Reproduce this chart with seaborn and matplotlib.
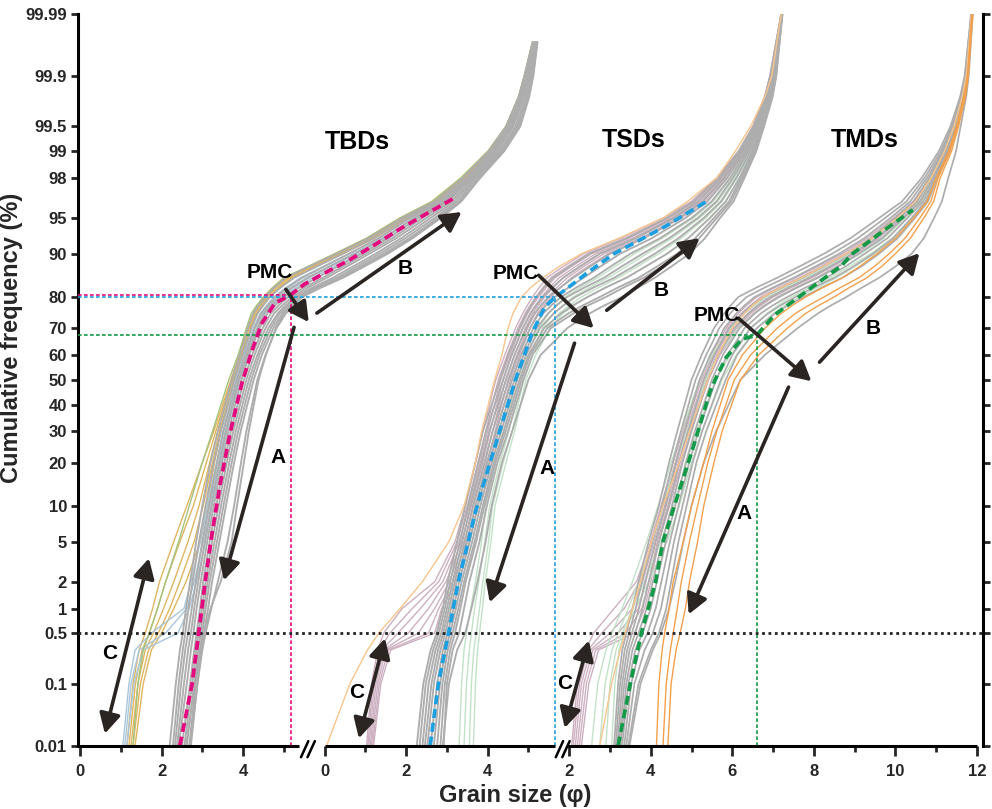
import matplotlib
matplotlib.use("Agg")
import matplotlib.pyplot as plt
from matplotlib.transforms import blended_transform_factory
import numpy as np
import pandas as pd
import seaborn as sns
from statistics import NormalDist

# ---------------------------------------------------------------------------
# Cumulative-frequency levels (%) at which every curve below is tabulated
# ---------------------------------------------------------------------------
P_TBD = [0.01, 0.1, 0.3, 0.5, 1, 2, 5, 10, 20, 30, 50, 60, 65, 70, 75, 77.5, 80, 82.5, 85,
         87.5, 90, 92.5, 95, 96.5, 98, 99, 99.5, 99.8, 99.9, 99.97]
P_TSD = [0.01, 0.1, 0.3, 0.5, 1, 2, 5, 10, 20, 30, 50, 60, 65, 70, 75, 77.5, 80, 82.5, 85,
         87.5, 90, 92.5, 95, 96.5, 98, 99, 99.5, 99.8, 99.9, 99.99]
P_TMD = P_TSD

# The three panels share one broken grain-size axis; phi values are shifted by these offsets
PANEL_OFFSET = [0.0, 6.0, 10.0]

# ---------------------------- TBDs (phi) ----------------------------------
TBD_GREY = [
    [2.20, 2.35, 2.45, 2.52, 2.60, 2.70, 2.85, 3.00, 3.20, 3.38, 3.72, 3.92, 4.02, 4.12, 4.25, 4.38, 4.55, 4.76, 5.05, 5.62, 6.30, 7.08, 7.90, 8.70, 9.40, 10.03, 10.45, 10.76, 10.90, 11.10],
    [2.28, 2.42, 2.52, 2.58, 2.66, 2.76, 2.92, 3.08, 3.28, 3.45, 3.78, 3.98, 4.09, 4.20, 4.35, 4.48, 4.65, 4.91, 5.25, 5.80, 6.45, 7.20, 8.00, 8.78, 9.48, 10.09, 10.50, 10.79, 10.93, 11.12],
    [2.33, 2.48, 2.58, 2.65, 2.74, 2.84, 3.00, 3.16, 3.36, 3.52, 3.85, 4.05, 4.16, 4.28, 4.45, 4.61, 4.80, 5.08, 5.45, 5.98, 6.60, 7.33, 8.10, 8.86, 9.52, 10.12, 10.52, 10.81, 10.95, 11.14],
    [2.38, 2.55, 2.65, 2.72, 2.80, 2.90, 3.06, 3.22, 3.42, 3.58, 3.90, 4.10, 4.22, 4.35, 4.52, 4.69, 4.90, 5.20, 5.60, 6.13, 6.75, 7.46, 8.20, 8.93, 9.56, 10.15, 10.55, 10.84, 10.97, 11.15],
    [2.42, 2.62, 2.72, 2.78, 2.86, 2.96, 3.12, 3.28, 3.48, 3.64, 3.96, 4.15, 4.27, 4.40, 4.60, 4.78, 5.00, 5.36, 5.80, 6.32, 6.90, 7.56, 8.30, 8.98, 9.60, 10.19, 10.58, 10.86, 10.99, 11.16],
    [2.50, 2.70, 2.80, 2.86, 2.94, 3.02, 3.18, 3.34, 3.54, 3.70, 4.02, 4.22, 4.35, 4.48, 4.68, 4.87, 5.10, 5.48, 5.95, 6.44, 7.00, 7.66, 8.40, 9.03, 9.62, 10.21, 10.60, 10.88, 11.01, 11.17],
    [2.56, 2.75, 2.85, 2.91, 2.99, 3.08, 3.24, 3.40, 3.60, 3.76, 4.08, 4.28, 4.41, 4.55, 4.76, 4.96, 5.20, 5.58, 6.05, 6.54, 7.10, 7.76, 8.50, 9.10, 9.66, 10.24, 10.63, 10.90, 11.03, 11.18],
    [2.62, 2.80, 2.90, 2.96, 3.04, 3.13, 3.30, 3.46, 3.66, 3.82, 4.14, 4.35, 4.48, 4.62, 4.85, 5.04, 5.28, 5.69, 6.20, 6.69, 7.25, 7.88, 8.60, 9.17, 9.70, 10.29, 10.68, 10.94, 11.06, 11.20],
    [2.68, 2.84, 2.94, 3.00, 3.08, 3.18, 3.36, 3.52, 3.72, 3.88, 4.20, 4.40, 4.54, 4.68, 4.90, 5.09, 5.32, 5.76, 6.30, 6.79, 7.35, 7.98, 8.70, 9.24, 9.74, 10.33, 10.72, 10.97, 11.09, 11.21],
    [2.72, 2.88, 2.98, 3.04, 3.14, 3.24, 3.42, 3.58, 3.78, 3.94, 4.26, 4.46, 4.60, 4.74, 4.96, 5.15, 5.38, 5.83, 6.38, 6.88, 7.45, 8.08, 8.78, 9.30, 9.78, 10.37, 10.76, 11.00, 11.11, 11.22],
    [2.70, 2.88, 3.00, 3.08, 3.22, 3.38, 3.62, 3.78, 3.95, 4.08, 4.35, 4.55, 4.68, 4.82, 5.05, 5.23, 5.45, 5.90, 6.45, 6.97, 7.55, 8.16, 8.85, 9.35, 9.82, 10.41, 10.80, 11.02, 11.12, 11.22],
    [2.60, 2.82, 2.95, 3.05, 3.20, 3.45, 3.72, 3.85, 4.02, 4.14, 4.38, 4.56, 4.68, 4.80, 5.00, 5.18, 5.40, 5.85, 6.40, 6.92, 7.50, 8.11, 8.80, 9.32, 9.80, 10.39, 10.78, 11.00, 11.10, 11.20],
]
TBD_YELLOW = [
    [1.15, 1.30, 1.45, 1.60, 1.78, 1.95, 2.30, 2.62, 3.00, 3.28, 3.70, 3.90, 4.00, 4.10, 4.25, 4.36, 4.50, 4.72, 5.00, 5.59, 6.25, 7.03, 7.85, 8.63, 9.35, 10.01, 10.45, 10.76, 10.90, 11.10],
    [1.20, 1.36, 1.52, 1.70, 1.90, 2.10, 2.45, 2.78, 3.10, 3.33, 3.72, 3.92, 4.02, 4.12, 4.27, 4.39, 4.53, 4.75, 5.03, 5.63, 6.30, 7.08, 7.90, 8.68, 9.40, 10.03, 10.45, 10.76, 10.90, 11.10],
    [1.25, 1.42, 1.60, 1.80, 2.05, 2.30, 2.65, 2.92, 3.18, 3.38, 3.75, 3.95, 4.05, 4.15, 4.30, 4.43, 4.58, 4.81, 5.10, 5.69, 6.35, 7.13, 7.95, 8.71, 9.42, 10.06, 10.48, 10.78, 10.92, 11.12],
    [1.30, 1.48, 1.68, 1.92, 2.20, 2.45, 2.80, 3.02, 3.25, 3.42, 3.78, 3.98, 4.08, 4.18, 4.33, 4.46, 4.62, 4.86, 5.15, 5.74, 6.40, 7.18, 8.00, 8.75, 9.45, 10.08, 10.50, 10.79, 10.93, 11.12],
    [1.35, 1.55, 1.75, 2.00, 2.30, 2.60, 2.95, 3.12, 3.30, 3.46, 3.80, 4.00, 4.10, 4.20, 4.36, 4.50, 4.66, 4.90, 5.20, 5.79, 6.45, 7.23, 8.05, 8.79, 9.48, 10.10, 10.52, 10.81, 10.94, 11.13],
]
TBD_STEEL = [
    [1.05, 1.20, 1.35, 1.75, 2.55, 2.72, 2.95, 3.12, 3.35, 3.50, 3.82, 4.02, 4.13, 4.25, 4.42, 4.57, 4.75, 5.04, 5.40, 5.96, 6.60, 7.31, 8.10, 8.85, 9.50, 10.13, 10.55, 10.82, 10.95, 11.14],
    [1.10, 1.25, 1.45, 2.10, 2.62, 2.80, 3.02, 3.18, 3.40, 3.56, 3.88, 4.08, 4.19, 4.30, 4.48, 4.65, 4.85, 5.16, 5.55, 6.09, 6.70, 7.41, 8.20, 8.92, 9.55, 10.16, 10.57, 10.84, 10.97, 11.15],
    [1.15, 1.32, 1.55, 2.40, 2.68, 2.86, 3.08, 3.24, 3.45, 3.60, 3.92, 4.12, 4.23, 4.35, 4.55, 4.73, 4.95, 5.28, 5.70, 6.24, 6.85, 7.55, 8.30, 8.98, 9.60, 10.20, 10.60, 10.87, 11.00, 11.16],
]
TBD_OLIVE = [
    [1.30, 1.42, 1.55, 1.70, 1.90, 2.10, 2.42, 2.68, 3.00, 3.25, 3.65, 3.88, 3.98, 4.08, 4.20, 4.33, 4.50, 4.72, 5.00, 5.59, 6.25, 7.03, 7.85, 8.63, 9.35, 10.01, 10.45, 10.76, 10.90, 11.10],
]
TBD_MEAN_X = [2.45, 2.75, 2.91, 3.07, 3.24, 3.44, 3.68, 3.97, 4.22, 4.46, 4.78, 5.17, 5.50, 5.98, 6.60, 7.23, 7.80, 8.53, 9.20]
TBD_MEAN_P = [0.01, 0.1, 0.5, 2, 6, 14.6, 29.3, 48.6, 61.8, 71.7, 78.2, 80.6, 83.4, 86, 88.8, 91.5, 93.6, 95.5, 96.8]

# ---------------------------- TSDs (phi) ----------------------------------
TSD_GREY = [
    [2.26, 2.42, 2.60, 2.75, 2.90, 3.02, 3.25, 3.45, 3.70, 3.88, 4.30, 4.50, 4.64, 4.78, 4.95, 5.06, 5.20, 5.38, 5.60, 6.01, 6.50, 7.42, 8.40, 9.05, 9.65, 10.17, 10.52, 10.80, 10.93, 11.20],
    [2.33, 2.48, 2.66, 2.80, 2.95, 3.08, 3.32, 3.52, 3.78, 3.96, 4.38, 4.58, 4.72, 4.86, 5.05, 5.19, 5.35, 5.58, 5.85, 6.26, 6.75, 7.63, 8.55, 9.16, 9.72, 10.22, 10.55, 10.82, 10.95, 11.20],
    [2.40, 2.55, 2.72, 2.86, 3.00, 3.14, 3.38, 3.58, 3.85, 4.04, 4.45, 4.66, 4.80, 4.95, 5.15, 5.31, 5.50, 5.77, 6.10, 6.51, 7.00, 7.83, 8.70, 9.27, 9.80, 10.27, 10.58, 10.85, 10.97, 11.21],
    [2.46, 2.62, 2.78, 2.91, 3.05, 3.19, 3.44, 3.64, 3.92, 4.12, 4.52, 4.74, 4.89, 5.04, 5.25, 5.43, 5.65, 5.97, 6.35, 6.76, 7.25, 8.03, 8.85, 9.39, 9.88, 10.32, 10.61, 10.87, 10.99, 11.21],
    [2.52, 2.68, 2.84, 2.96, 3.10, 3.24, 3.50, 3.70, 3.98, 4.20, 4.60, 4.82, 4.97, 5.12, 5.36, 5.56, 5.80, 6.16, 6.60, 7.01, 7.50, 8.23, 9.00, 9.49, 9.95, 10.36, 10.64, 10.89, 11.00, 11.21],
    [2.60, 2.76, 2.90, 3.02, 3.16, 3.30, 3.56, 3.76, 4.04, 4.27, 4.66, 4.88, 5.04, 5.20, 5.48, 5.69, 5.95, 6.36, 6.85, 7.28, 7.80, 8.45, 9.15, 9.61, 10.02, 10.40, 10.66, 10.91, 11.02, 11.22],
    [2.68, 2.83, 2.96, 3.08, 3.22, 3.36, 3.62, 3.82, 4.10, 4.33, 4.72, 4.94, 5.11, 5.28, 5.62, 5.86, 6.15, 6.58, 7.10, 7.57, 8.10, 8.68, 9.30, 9.72, 10.10, 10.45, 10.69, 10.92, 11.03, 11.22],
    [2.76, 2.89, 3.02, 3.14, 3.28, 3.42, 3.68, 3.88, 4.15, 4.39, 4.78, 5.00, 5.19, 5.38, 5.80, 6.09, 6.45, 6.88, 7.40, 7.87, 8.40, 8.92, 9.45, 9.84, 10.18, 10.50, 10.72, 10.94, 11.05, 11.22],
    [2.84, 2.95, 3.08, 3.20, 3.33, 3.46, 3.72, 3.92, 4.19, 4.44, 4.83, 5.04, 5.25, 5.46, 5.98, 6.33, 6.75, 7.18, 7.70, 8.15, 8.65, 9.09, 9.55, 9.92, 10.22, 10.53, 10.74, 10.96, 11.06, 11.22],
    [2.92, 3.00, 3.14, 3.30, 3.42, 3.55, 3.80, 3.98, 4.24, 4.50, 4.88, 5.10, 5.32, 5.55, 6.10, 6.46, 6.90, 7.32, 7.82, 8.27, 8.78, 9.19, 9.62, 9.97, 10.26, 10.56, 10.76, 10.98, 11.07, 11.23],
    [2.90, 3.05, 3.25, 3.45, 3.60, 3.75, 3.95, 4.10, 4.35, 4.60, 5.00, 5.30, 5.62, 5.95, 6.50, 6.86, 7.30, 7.68, 8.10, 8.50, 8.95, 9.33, 9.70, 10.03, 10.30, 10.59, 10.78, 10.99, 11.08, 11.23],
]
TSD_MAUVE = [
    [1.03, 1.15, 1.30, 1.45, 1.90, 2.70, 3.20, 3.45, 3.70, 3.88, 4.20, 4.42, 4.55, 4.68, 4.86, 4.97, 5.10, 5.26, 5.45, 5.85, 6.35, 7.27, 8.30, 8.99, 9.62, 10.15, 10.50, 10.79, 10.92, 11.20],
    [1.06, 1.18, 1.35, 1.60, 2.15, 2.80, 3.25, 3.50, 3.76, 3.95, 4.26, 4.48, 4.61, 4.74, 4.92, 5.04, 5.18, 5.35, 5.55, 5.95, 6.45, 7.37, 8.38, 9.05, 9.66, 10.18, 10.52, 10.80, 10.93, 11.20],
    [1.09, 1.22, 1.40, 1.80, 2.35, 2.90, 3.30, 3.55, 3.82, 4.00, 4.32, 4.54, 4.67, 4.80, 4.98, 5.10, 5.25, 5.43, 5.65, 6.05, 6.55, 7.46, 8.45, 9.10, 9.70, 10.20, 10.54, 10.81, 10.94, 11.20],
    [1.12, 1.26, 1.45, 2.05, 2.55, 2.98, 3.36, 3.60, 3.88, 4.06, 4.38, 4.60, 4.73, 4.86, 5.04, 5.17, 5.32, 5.51, 5.75, 6.15, 6.65, 7.55, 8.52, 9.16, 9.74, 10.23, 10.56, 10.83, 10.95, 11.21],
    [1.15, 1.30, 1.50, 2.30, 2.70, 3.06, 3.42, 3.65, 3.94, 4.12, 4.44, 4.66, 4.79, 4.92, 5.10, 5.24, 5.40, 5.60, 5.85, 6.25, 6.75, 7.65, 8.60, 9.22, 9.78, 10.26, 10.58, 10.84, 10.96, 11.21],
    [1.18, 1.34, 1.56, 2.55, 2.80, 3.14, 3.48, 3.70, 4.00, 4.18, 4.50, 4.72, 4.85, 4.98, 5.16, 5.30, 5.48, 5.69, 5.95, 6.35, 6.85, 7.75, 8.68, 9.27, 9.82, 10.29, 10.60, 10.85, 10.97, 11.21],
    [1.20, 1.38, 1.62, 2.70, 2.87, 3.22, 3.55, 3.75, 4.05, 4.22, 4.56, 4.78, 4.91, 5.04, 5.22, 5.37, 5.56, 5.78, 6.05, 6.45, 6.95, 7.84, 8.75, 9.33, 9.86, 10.32, 10.62, 10.86, 10.98, 11.21],
]
TSD_ORANGE = [
    [0.05, 0.62, 1.05, 1.33, 1.85, 2.40, 3.05, 3.42, 3.70, 3.85, 4.17, 4.35, 4.42, 4.50, 4.62, 4.72, 4.83, 5.05, 5.35, 5.75, 6.30, 7.22, 8.30, 8.90, 9.62, 10.08, 10.45, 10.80, 10.97, 11.20],
]
TSD_MINT = [
    [3.30, 3.36, 3.42, 3.48, 3.58, 3.70, 3.85, 3.95, 4.20, 4.40, 4.72, 4.95, 5.10, 5.25, 5.50, 5.68, 5.90, 6.26, 6.70, 7.12, 7.60, 8.29, 9.05, 9.53, 9.98, 10.38, 10.65, 10.90, 11.01, 11.21],
    [3.42, 3.48, 3.55, 3.60, 3.68, 3.78, 3.93, 4.05, 4.30, 4.52, 4.80, 5.02, 5.18, 5.35, 5.62, 5.84, 6.10, 6.48, 6.95, 7.40, 7.90, 8.53, 9.20, 9.64, 10.05, 10.42, 10.67, 10.91, 11.02, 11.22],
    [3.55, 3.60, 3.66, 3.72, 3.80, 3.88, 4.02, 4.12, 4.38, 4.60, 4.88, 5.10, 5.27, 5.45, 5.75, 6.00, 6.30, 6.71, 7.20, 7.67, 8.20, 8.75, 9.35, 9.75, 10.12, 10.47, 10.70, 10.93, 11.04, 11.22],
    [3.65, 3.70, 3.75, 3.80, 3.87, 3.94, 4.08, 4.18, 4.45, 4.66, 4.94, 5.18, 5.35, 5.52, 5.85, 6.12, 6.45, 6.88, 7.40, 7.87, 8.40, 8.92, 9.45, 9.83, 10.18, 10.50, 10.72, 10.94, 11.05, 11.22],
]
TSD_MEAN_X = [2.59, 2.79, 3.04, 3.28, 3.69, 3.85, 4.18, 4.68, 4.90, 5.08, 5.40, 5.66, 5.98, 6.42, 7.10, 7.66, 8.34, 8.90, 9.42]
TSD_MEAN_P = [0.01, 0.1, 0.5, 2, 8.7, 13, 25, 50, 60, 68, 77, 80, 82.6, 86, 90, 92, 94, 95.5, 96.6]

# ---------------------------- TMDs (phi) ----------------------------------
TMD_GREY = [
    [3.10, 3.20, 3.30, 3.40, 3.55, 3.70, 3.95, 4.20, 4.45, 4.65, 5.00, 5.25, 5.40, 5.55, 5.80, 5.96, 6.15, 6.58, 7.10, 7.64, 8.25, 8.90, 9.60, 10.16, 10.65, 11.07, 11.35, 11.59, 11.70, 11.86],
    [3.14, 3.25, 3.36, 3.47, 3.63, 3.78, 4.04, 4.28, 4.54, 4.74, 5.10, 5.36, 5.52, 5.68, 5.95, 6.13, 6.35, 6.78, 7.30, 7.84, 8.45, 9.08, 9.75, 10.27, 10.72, 11.12, 11.38, 11.60, 11.71, 11.86],
    [3.18, 3.30, 3.42, 3.54, 3.71, 3.86, 4.12, 4.36, 4.62, 4.83, 5.20, 5.46, 5.63, 5.80, 6.10, 6.30, 6.55, 6.98, 7.50, 8.03, 8.62, 9.24, 9.88, 10.36, 10.78, 11.16, 11.40, 11.62, 11.72, 11.87],
    [3.22, 3.35, 3.48, 3.62, 3.80, 3.95, 4.20, 4.44, 4.70, 4.92, 5.30, 5.56, 5.74, 5.92, 6.25, 6.47, 6.75, 7.18, 7.70, 8.22, 8.80, 9.41, 10.00, 10.45, 10.83, 11.19, 11.42, 11.63, 11.73, 11.87],
    [3.26, 3.40, 3.55, 3.70, 3.90, 4.05, 4.28, 4.52, 4.78, 5.00, 5.40, 5.66, 5.85, 6.05, 6.40, 6.64, 6.95, 7.38, 7.90, 8.41, 8.95, 9.55, 10.10, 10.53, 10.88, 11.22, 11.44, 11.64, 11.74, 11.87],
    [3.30, 3.45, 3.62, 3.80, 4.00, 4.15, 4.37, 4.60, 4.86, 5.08, 5.50, 5.77, 5.97, 6.18, 6.55, 6.81, 7.15, 7.58, 8.10, 8.60, 9.10, 9.68, 10.20, 10.61, 10.93, 11.25, 11.46, 11.66, 11.75, 11.88],
    [3.35, 3.52, 3.72, 3.92, 4.12, 4.26, 4.47, 4.68, 4.94, 5.17, 5.60, 5.88, 6.09, 6.30, 6.70, 6.99, 7.35, 7.78, 8.30, 8.77, 9.25, 9.81, 10.30, 10.68, 10.97, 11.28, 11.48, 11.67, 11.76, 11.88],
    [3.40, 3.60, 3.85, 4.05, 4.25, 4.38, 4.57, 4.78, 5.03, 5.26, 5.72, 6.00, 6.22, 6.44, 6.88, 7.18, 7.55, 7.98, 8.50, 8.97, 9.45, 9.95, 10.40, 10.74, 11.00, 11.31, 11.50, 11.68, 11.77, 11.88],
    [3.45, 3.70, 4.00, 4.20, 4.38, 4.50, 4.68, 4.88, 5.12, 5.36, 5.84, 6.12, 6.36, 6.60, 7.05, 7.36, 7.75, 8.18, 8.70, 9.16, 9.60, 10.06, 10.48, 10.80, 11.03, 11.34, 11.52, 11.69, 11.78, 11.89],
    [3.48, 3.75, 4.05, 4.25, 4.45, 4.60, 4.80, 5.00, 5.30, 5.60, 6.20, 6.80, 7.19, 7.60, 8.10, 8.42, 8.80, 9.17, 9.60, 10.00, 10.40, 10.70, 10.95, 11.14, 11.30, 11.49, 11.60, 11.74, 11.80, 11.90],
]
TMD_MAUVE = [
    [2.06, 2.20, 2.40, 2.60, 3.10, 3.65, 4.00, 4.25, 4.55, 4.78, 5.20, 5.48, 5.66, 5.85, 6.15, 6.35, 6.60, 7.03, 7.55, 8.09, 8.70, 9.31, 9.95, 10.43, 10.85, 11.19, 11.42, 11.63, 11.73, 11.87],
    [2.10, 2.25, 2.46, 2.80, 3.35, 3.72, 4.04, 4.30, 4.60, 4.82, 5.25, 5.52, 5.71, 5.90, 6.22, 6.44, 6.70, 7.13, 7.65, 8.18, 8.78, 9.38, 10.00, 10.47, 10.87, 11.21, 11.43, 11.63, 11.73, 11.87],
    [2.15, 2.30, 2.52, 3.00, 3.55, 3.80, 4.08, 4.34, 4.64, 4.86, 5.30, 5.58, 5.78, 5.98, 6.30, 6.52, 6.80, 7.23, 7.75, 8.27, 8.86, 9.45, 10.05, 10.51, 10.89, 11.22, 11.44, 11.64, 11.74, 11.87],
    [2.20, 2.36, 2.58, 3.20, 3.70, 3.88, 4.12, 4.38, 4.68, 4.90, 5.34, 5.62, 5.83, 6.04, 6.38, 6.61, 6.90, 7.33, 7.85, 8.36, 8.94, 9.52, 10.10, 10.55, 10.91, 11.24, 11.45, 11.64, 11.74, 11.87],
    [2.25, 2.42, 2.65, 3.40, 3.78, 3.95, 4.16, 4.42, 4.72, 4.94, 5.38, 5.66, 5.88, 6.10, 6.45, 6.70, 7.00, 7.43, 7.95, 8.45, 9.02, 9.59, 10.15, 10.59, 10.93, 11.25, 11.46, 11.65, 11.75, 11.88],
    [2.30, 2.48, 2.72, 3.60, 3.85, 4.00, 4.20, 4.46, 4.76, 4.98, 5.42, 5.70, 5.92, 6.15, 6.52, 6.78, 7.10, 7.53, 8.05, 8.54, 9.10, 9.66, 10.20, 10.62, 10.95, 11.27, 11.47, 11.66, 11.75, 11.88],
]
TMD_MINT = [
    [2.55, 2.70, 2.90, 3.05, 3.30, 3.55, 3.90, 4.18, 4.50, 4.75, 5.20, 5.50, 5.72, 5.95, 6.30, 6.55, 6.85, 7.28, 7.80, 8.31, 8.90, 9.51, 10.10, 10.55, 10.90, 11.23, 11.44, 11.64, 11.74, 11.87],
    [2.75, 2.88, 3.05, 3.20, 3.45, 3.70, 4.05, 4.30, 4.62, 4.88, 5.35, 5.65, 5.89, 6.15, 6.55, 6.82, 7.15, 7.58, 8.10, 8.59, 9.15, 9.72, 10.25, 10.64, 10.95, 11.27, 11.46, 11.66, 11.75, 11.88],
    [2.90, 3.00, 3.15, 3.30, 3.55, 3.85, 4.25, 4.55, 4.88, 5.12, 5.60, 5.95, 6.19, 6.45, 6.85, 7.12, 7.45, 7.88, 8.40, 8.87, 9.40, 9.92, 10.40, 10.74, 11.00, 11.31, 11.50, 11.68, 11.77, 11.88],
    [3.04, 3.12, 3.22, 3.35, 3.62, 3.95, 4.40, 4.70, 5.00, 5.25, 5.75, 6.10, 6.34, 6.60, 7.00, 7.29, 7.65, 8.06, 8.55, 9.00, 9.50, 10.00, 10.45, 10.78, 11.02, 11.33, 11.52, 11.70, 11.78, 11.89],
]
TMD_PALE_ORANGE = [
    [2.75, 3.04, 3.25, 3.37, 3.55, 3.75, 4.02, 4.30, 4.70, 4.95, 5.40, 5.65, 5.82, 6.00, 6.30, 6.50, 6.75, 7.18, 7.70, 8.22, 8.80, 9.42, 10.05, 10.49, 10.88, 11.21, 11.44, 11.64, 11.74, 11.87],
]
TMD_ORANGE = [
    [4.14, 4.20, 4.28, 4.34, 4.45, 4.55, 4.80, 5.00, 5.30, 5.50, 5.90, 6.25, 6.52, 6.80, 7.20, 7.47, 7.80, 8.21, 8.70, 9.12, 9.55, 10.01, 10.45, 10.78, 11.00, 11.31, 11.50, 11.68, 11.77, 11.88],
    [4.30, 4.38, 4.48, 4.55, 4.65, 4.75, 4.95, 5.15, 5.40, 5.62, 6.05, 6.45, 6.77, 7.10, 7.55, 7.87, 8.25, 8.64, 9.10, 9.48, 9.85, 10.24, 10.60, 10.87, 11.05, 11.34, 11.52, 11.70, 11.78, 11.89],
    [4.42, 4.50, 4.62, 4.72, 4.85, 4.95, 5.15, 5.30, 5.55, 5.75, 6.20, 6.65, 6.99, 7.35, 7.80, 8.12, 8.50, 8.86, 9.30, 9.66, 10.00, 10.37, 10.70, 10.94, 11.10, 11.38, 11.55, 11.72, 11.79, 11.90],
]
TMD_MEAN_X = [3.20, 3.50, 3.77, 4.12, 4.30, 4.58, 5.05, 5.45, 5.58, 5.85, 6.23, 6.60, 7.04, 7.75, 8.20, 8.68, 8.95, 9.73, 10.43]
TMD_MEAN_P = [0.01, 0.1, 0.5, 2, 5, 10, 25, 45, 50, 59, 66, 67.5, 74.5, 81, 84.5, 87.7, 90, 93.6, 95.8]

# Point of maximum curvature of each mean curve (phi, cumulative %)
PMC_X = [5.17, 5.66, 6.60]
PMC_P = [80.6, 80.0, 67.5]

# Axis ticks (cumulative %) and grain-size tick labels per axis segment
Y_TICKS = [0.01, 0.1, 0.5, 1, 2, 5, 10, 20, 30, 40, 50, 60, 70, 80, 90, 95, 98, 99, 99.5, 99.9, 99.99]
Y_TICK_LABELS = ["0.01", "0.1", "0.5", "1", "2", "5", "10", "20", "30", "40", "50",
                 "60", "70", "80", "90", "95", "98", "99", "99.5", "99.9", "99.99"]
SEG_MAJOR = [[0, 2, 4], [0, 2, 4], [2, 4, 6, 8, 10, 12]]
SEG_MINOR = [[1, 3, 5], [1, 3, 5], [3, 5, 7, 9, 11]]
SEG_RANGE = [(-0.05, 5.38), (0.0, 5.64), (1.98, 12.0)]
BREAKS = [5.60, 11.85]

# Colours
GREY = "#ADADAD"
MAGENTA = "#E5097F"
BLUE = "#1EA0E0"
GREEN = "#129A48"
YELLOW = "#E0B55E"
STEEL = "#A9C7DC"
OLIVE = "#A4C37D"
MAUVE = "#CDB0C0"
MINT = "#C2E2C7"
ORANGE = "#F4A04A"
PALE_ORANGE = "#F8C58C"
INK = "#2A2422"

_nd = NormalDist()


def probit(p):
    """Cumulative percent -> standard normal quantile (probability paper)."""
    return np.array([_nd.inv_cdf(v / 100.0) for v in np.atleast_1d(p)], dtype=float)


def curve_table(curves, levels, offset, tag):
    rows = []
    z = probit(levels)
    for i, xs in enumerate(curves):
        for x, zz in zip(xs, z):
            rows.append((x + offset, zz, f"{tag}{i}"))
    return pd.DataFrame(rows, columns=["u", "z", "curve"])


sns.set_style("ticks")
plt.rcParams["font.family"] = ["Liberation Sans", "DejaVu Sans"]
plt.rcParams["font.weight"] = "bold"

fig = plt.figure(figsize=(9.92, 8.09), dpi=100)
ax = fig.add_axes([78 / 992, 1 - 745.5 / 809, (983 - 78) / 992, (745.5 - 14) / 809])

# Individual sample curves: coloured sub-groups first, the grey bulk on top,
# and the strongly coloured outliers last.
families = [
    (TBD_YELLOW, P_TBD, 0, YELLOW, 1.0), (TBD_STEEL, P_TBD, 0, STEEL, 1.0),
    (TBD_OLIVE, P_TBD, 0, OLIVE, 1.0),
    (TSD_MAUVE, P_TSD, 1, MAUVE, 1.0), (TSD_MINT, P_TSD, 1, MINT, 1.0),
    (TMD_MAUVE, P_TMD, 2, MAUVE, 1.0), (TMD_MINT, P_TMD, 2, MINT, 1.0),
    (TBD_GREY, P_TBD, 0, GREY, 1.35), (TSD_GREY, P_TSD, 1, GREY, 1.35),
    (TMD_GREY, P_TMD, 2, GREY, 1.25),
    (TSD_ORANGE, P_TSD, 1, PALE_ORANGE, 1.0), (TMD_PALE_ORANGE, P_TMD, 2, PALE_ORANGE, 1.0),
    (TMD_ORANGE, P_TMD, 2, ORANGE, 1.0),
]
for k, (curves, levels, panel, color, lw) in enumerate(families):
    df = curve_table(curves, levels, PANEL_OFFSET[panel], f"f{k}_")
    sns.lineplot(data=df, x="u", y="z", units="curve", estimator=None, sort=False,
                 color=color, linewidth=lw, ax=ax, legend=False, zorder=2)

# Mean curves (thick dashed)
means = [(TBD_MEAN_X, TBD_MEAN_P, MAGENTA), (TSD_MEAN_X, TSD_MEAN_P, BLUE),
         (TMD_MEAN_X, TMD_MEAN_P, GREEN)]
for i, (mx, mp, color) in enumerate(means):
    sns.lineplot(x=np.array(mx) + PANEL_OFFSET[i], y=probit(mp), sort=False,
                 color=color, linewidth=2.7, linestyle=(0, (2.4, 1.3)),
                 ax=ax, legend=False, zorder=4)

# Reference lines through the PMC of each mean curve
y_bottom = probit(0.01)[0]
y_top = probit(99.99)[0]
x_left = -0.05
for i, color in enumerate([MAGENTA, BLUE, GREEN]):
    u = PMC_X[i] + PANEL_OFFSET[i]
    z = probit(PMC_P[i])[0]
    ax.plot([x_left, u], [z, z], color=color, lw=1.2, ls=(0, (2.2, 1.4)), zorder=3)
    ax.plot([u, u], [y_bottom, z], color=color, lw=1.2, ls=(0, (2.2, 1.4)), zorder=3)

# 0.5 % limit line
ax.axhline(probit(0.5)[0], color="#222222", lw=2.0, ls=(0, (1, 1.3)), zorder=3)

# Population arrows (position on the shared axis, cumulative %)
ARROWS = [
    ((5.05, 82.1), (5.61, 72.1), "-|>"), ((5.81, 75.1), (9.36, 95.6), "-|>"),
    ((5.25, 70.3), (3.53, 2.07), "-|>"), ((0.61, 0.016), (1.69, 3.47), "<|-|>"),
    ((11.25, 85.6), (12.60, 70.0), "-|>"), ((12.92, 76.0), (15.20, 92.5), "-|>"),
    ((12.13, 64.5), (10.05, 1.18), "-|>"), ((6.84, 0.0133), (7.48, 0.427), "<|-|>"),
    ((16.15, 73.4), (17.94, 49.4), "-|>"), ((18.14, 57.1), (20.59, 90.1), "-|>"),
    ((17.38, 47.0), (14.93, 0.854), "-|>"), ((11.89, 0.02), (12.48, 0.40), "<|-|>"),
]
for (u0, p0), (u1, p1), style in ARROWS:
    ax.annotate("", xy=(u1, probit(p1)[0]), xytext=(u0, probit(p0)[0]),
                arrowprops=dict(arrowstyle=f"{style},head_length=0.6,head_width=0.32",
                                color=INK, lw=2.6, shrinkA=0, shrinkB=0,
                                mutation_scale=20), zorder=5)

LABELS = [
    ("TBDs", 6.81, 99.22, 18), ("TSDs", 13.58, 99.26, 18), ("TMDs", 19.24, 99.26, 18),
    ("PMC", 4.66, 86.3, 15), ("PMC", 10.69, 86.1, 15), ("PMC", 15.61, 74.4, 15),
    ("B", 7.97, 87.2, 15), ("A", 4.85, 21.5, 15), ("C", 0.735, 0.27, 15),
    ("B", 14.26, 81.9, 15), ("A", 11.45, 18.4, 15), ("C", 6.79, 0.074, 15),
    ("B", 19.46, 70.0, 15), ("A", 16.30, 8.7, 15), ("C", 11.89, 0.10, 15),
]
for text, u, p, size in LABELS:
    ax.text(u, probit(p)[0], text, ha="center", va="center", fontsize=size,
            fontweight="bold", color="black", zorder=6)

# Axes
ax.set_xlim(-0.05, 22.15)
ax.set_ylim(y_bottom, y_top)
ax.set_yticks(probit(Y_TICKS))
ax.set_yticklabels(Y_TICK_LABELS, fontsize=12, fontweight="bold")

major_u, major_lab, minor_u = [], [], []
for i in range(3):
    major_u += [v + PANEL_OFFSET[i] for v in SEG_MAJOR[i]]
    major_lab += [str(v) for v in SEG_MAJOR[i]]
    minor_u += [v + PANEL_OFFSET[i] for v in SEG_MINOR[i]]
ax.set_xticks(major_u)
ax.set_xticklabels(major_lab, fontsize=12, fontweight="bold")
ax.set_xticks(minor_u, minor=True)

ax.tick_params(axis="x", which="major", direction="out", length=7, width=2, pad=6)
ax.tick_params(axis="x", which="minor", direction="out", length=4, width=2)
ax.tick_params(axis="y", which="major", direction="out", length=5, width=2,
               left=True, right=True, labelright=False, pad=3)

for side in ["left", "right"]:
    ax.spines[side].set_linewidth(2.2)
    ax.spines[side].set_color("black")
ax.spines["top"].set_visible(False)
ax.spines["bottom"].set_visible(False)

# Broken bottom axis
trans = blended_transform_factory(ax.transData, ax.transAxes)
for i, (a, b) in enumerate(SEG_RANGE):
    ax.plot([a + PANEL_OFFSET[i], b + PANEL_OFFSET[i]], [0, 0], transform=trans,
            color="black", lw=2.2, clip_on=False, solid_capstyle="butt", zorder=7)
for bx in BREAKS:
    for dx in (-0.09, 0.07):
        ax.plot([bx + dx - 0.09, bx + dx + 0.09], [-0.016, 0.006], transform=trans,
                color="black", lw=1.8, clip_on=False, zorder=7)

ax.set_ylabel("Cumulative frequency (%)", fontsize=17, fontweight="bold")
ax.yaxis.set_label_coords(-0.061, 0.557)
ax.set_xlabel("Grain size (φ)", fontsize=17, fontweight="bold")
ax.xaxis.set_label_coords(0.483, -0.053)

fig.savefig("out.png", dpi=100)
